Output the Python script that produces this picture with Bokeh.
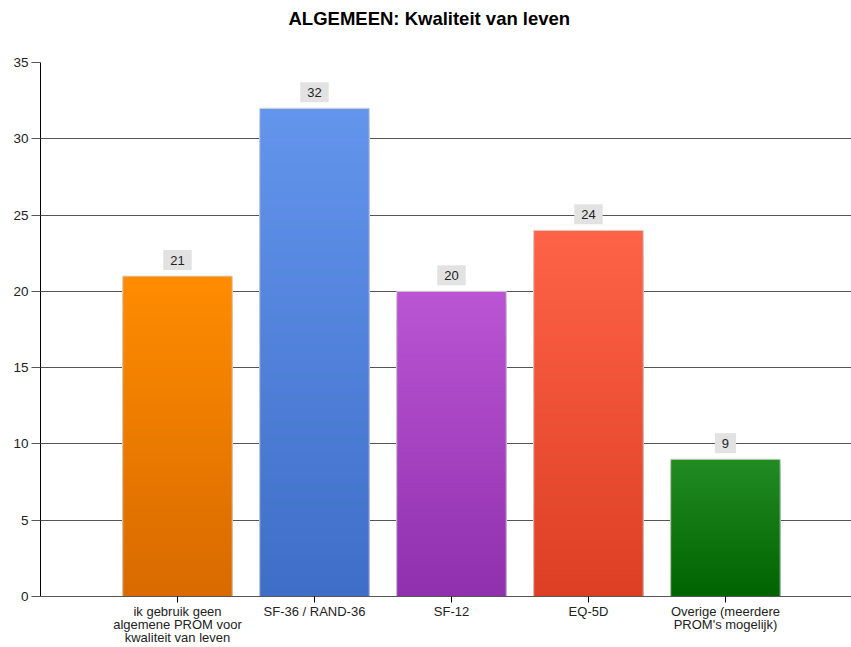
from bokeh.plotting import figure
from bokeh.models import Range1d, FixedTicker, ColumnDataSource, Title
from bokeh.core.properties import value
from bokeh.embed import file_html
from bokeh.resources import INLINE

# --- data -------------------------------------------------------------
categories = [
    "ik gebruik geen\nalgemene PROM voor\nkwaliteit van leven",
    "SF-36 / RAND-36",
    "SF-12",
    "EQ-5D",
    "Overige (meerdere\nPROM's mogelijk)",
]
counts = [21, 32, 20, 24, 9]
y_ticks = [0, 5, 10, 15, 20, 25, 30, 35]

# top / bottom colour of each bar's vertical gradient
top_colors = ["#FF8C00", "#6495ED", "#BA55D3", "#FF6347", "#228B22"]
bottom_colors = ["#D86A00", "#3E6EC7", "#9030AE", "#DC3F23", "#006400"]

FONT = "Liberation Sans"
BAR_W = 0.8
positions = list(range(1, len(categories) + 1))


def hex_to_rgb(h):
    h = h.lstrip("#")
    return tuple(int(h[i:i + 2], 16) for i in (0, 2, 4))


def mix(c0, c1, t):
    a, b = hex_to_rgb(c0), hex_to_rgb(c1)
    return "#%02x%02x%02x" % tuple(round(a[i] + (b[i] - a[i]) * t) for i in range(3))


p = figure(
    width=851, height=647,
    x_range=Range1d(0, 5.92), y_range=Range1d(0, 35),
    output_backend="svg", toolbar_location=None,
    min_border_left=40, min_border_right=0,
    min_border_top=0, min_border_bottom=45,
)
p.title = None

# blank spacer between the heading and the plot area
p.add_layout(Title(text=" ", text_font_size="1px", standoff=25), "above")
# heading, centred on the whole canvas
p.add_layout(Title(
    text="ALGEMEEN: Kwaliteit van leven", align="left", offset=248,
    text_font=FONT, text_font_size="18.5px", text_font_style="bold",
    text_color="#000000", standoff=11,
), "above")

# gradient bars: stacked full-width layers, each shorter and darker
N = 70
layers = dict(left=[], right=[], top=[], bottom=[], color=[])
for pos, v, c_top, c_bot in zip(positions, counts, top_colors, bottom_colors):
    for i in range(N):
        frac = (N - i) / N
        layers["left"].append(pos - BAR_W / 2)
        layers["right"].append(pos + BAR_W / 2)
        layers["bottom"].append(0)
        layers["top"].append(v * frac)
        layers["color"].append(mix(c_bot, c_top, frac - 0.5 / N))
p.quad(left="left", right="right", top="top", bottom="bottom",
       fill_color="color", line_color=None, source=ColumnDataSource(layers))

# thin light outline around each bar
p.vbar(x=positions, top=counts, width=BAR_W, fill_color=None,
       line_color="#D4D4D4", line_width=1)

# value labels on grey boxes above the bars
lab = ColumnDataSource(dict(x=positions, y=counts, t=[str(c) for c in counts]))
p.text(x="x", y="y", text="t", source=lab,
       text_align="center", text_baseline="bottom", y_offset=-6,
       text_font=value(FONT), text_font_size="13px", text_color="#222222",
       background_fill_color="#E2E2E2",
       padding=dict(left=7, right=7, top=6, bottom=5))

# axes
p.xaxis.ticker = FixedTicker(ticks=positions)
p.xaxis.major_label_overrides = {pos: lbl for pos, lbl in zip(positions, categories)}
p.xaxis.major_label_text_font = FONT
p.xaxis.major_label_text_font_size = "13px"
p.xaxis.major_label_text_color = "#222222"
p.xaxis.major_label_text_line_height = 0.88
p.xaxis.major_label_standoff = 1
p.xaxis.major_tick_out = 6
p.xaxis.major_tick_in = 0
p.xaxis.major_tick_line_color = "#000000"
p.xaxis.minor_tick_line_color = None
p.xaxis.axis_line_color = "#555555"

p.yaxis.ticker = FixedTicker(ticks=y_ticks)
p.yaxis.major_label_text_font = FONT
p.yaxis.major_label_text_font_size = "13.5px"
p.yaxis.major_label_text_color = "#222222"
p.yaxis.major_label_standoff = 3
p.yaxis.major_tick_out = 9
p.yaxis.major_tick_in = 0
p.yaxis.major_tick_line_color = "#555555"
p.yaxis.minor_tick_line_color = None
p.yaxis.axis_line_color = "#000000"

p.xgrid.grid_line_color = None
p.ygrid.ticker = FixedTicker(ticks=y_ticks)
p.ygrid.grid_line_color = "#555555"
p.ygrid.grid_line_width = 1
p.ygrid.level = "underlay"

p.outline_line_color = None
p.background_fill_color = "#FFFFFF"
p.border_fill_color = "#FFFFFF"

open("out.html", "w").write(file_html(p, INLINE))
